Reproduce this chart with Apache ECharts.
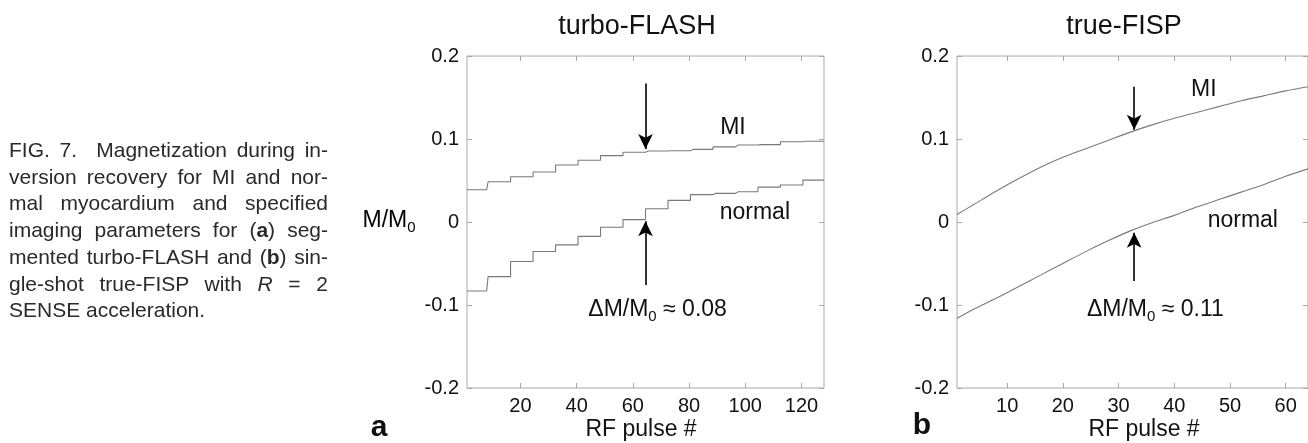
<!DOCTYPE html>
<html>
<head>
<meta charset="utf-8">
<script src="https://cdn.jsdelivr.net/npm/echarts@6/dist/echarts.min.js"></script>
<style>
  html, body { margin: 0; padding: 0; background: #fff; }
  #wrap { position: relative; width: 1308px; height: 443px; overflow: hidden; }
  #chart { position: absolute; left: 0; top: 0; width: 1308px; height: 443px; }
  #caption { position: absolute; left: 9px; top: 137px; width: 319px;
    font-family: "Liberation Sans", Arial, sans-serif; font-size: 21px; line-height: 26.7px; color: #2a2a2a; }
  #caption div { text-align: justify; text-align-last: justify; white-space: nowrap; }
  #caption div.last { text-align-last: left; }
</style>
</head>
<body>
<div id="wrap">
  <div id="chart"></div>
  <div id="caption">
    <div>FIG. 7.&nbsp; Magnetization during in-</div>
    <div>version recovery for MI and nor-</div>
    <div>mal myocardium and specified</div>
    <div>imaging parameters for (<b>a</b>) seg-</div>
    <div>mented turbo-FLASH and (<b>b</b>) sin-</div>
    <div>gle-shot true-FISP with <i>R</i> = 2</div>
    <div class="last">SENSE acceleration.</div>
  </div>
</div>
<script>
// ---------- DATA ----------
// (a) turbo-FLASH: 128 RF pulses, acquired in segments of 8 pulses; one value per segment
const flashSegmentLength = 8;
const flashPulseCount = 128;
const flashMI     = [0.0388, 0.0485, 0.0545, 0.0602, 0.0687, 0.0744, 0.0800, 0.0841,
                     0.0855, 0.0858, 0.0875, 0.0905, 0.0927, 0.0932, 0.0966, 0.0972];
const flashNormal = [-0.0832, -0.0658, -0.0476, -0.0355, -0.0275, -0.0173, -0.0064, 0.0029,
                     0.0160, 0.0260, 0.0330, 0.0345, 0.0365, 0.0420, 0.0445, 0.0505];
const flashTicks = [20, 40, 60, 80, 100, 120];

// (b) true-FISP: 64 RF pulses, smooth recovery
const fispPulses = [1, 4, 8, 12, 16, 20, 24, 28, 32, 36, 40, 44, 48, 52, 56, 60, 64];
const fispMI     = [0.009, 0.021, 0.037, 0.052, 0.066, 0.078, 0.088, 0.098, 0.108,
                    0.117, 0.125, 0.132, 0.139, 0.146, 0.152, 0.158, 0.163];
const fispNormal = [-0.116, -0.105, -0.092, -0.078, -0.064, -0.050, -0.036, -0.023, -0.011,
                    -0.001, 0.008, 0.018, 0.027, 0.036, 0.045, 0.055, 0.064];
const fispTicks = [10, 20, 30, 40, 50, 60];

const yTicks = [-0.2, -0.1, 0, 0.1, 0.2];

// annotations (data coordinates)
const flashArrowDown = [[64.5, 0.167], [64.5, 0.088]];
const flashArrowUp   = [[64.5, -0.076], [64.5, 0.001]];
const fispArrowDown  = [[32.8, 0.163], [32.8, 0.111]];
const fispArrowUp    = [[32.8, -0.071], [32.8, -0.013]];
const flashLabels = [
  { coord: [95.6, 0.114], text: '{n|MI}' },
  { coord: [103.4, 0.011], text: '{n|normal}' },
  { coord: [68.8, -0.106], text: '{n|ΔM/M}{s|0}{n| ≈ 0.08}' }
];
const fispLabels = [
  { coord: [45.3, 0.159], text: '{n|MI}' },
  { coord: [52.3, 0.002], text: '{n|normal}' },
  { coord: [36.6, -0.106], text: '{n|ΔM/M}{s|0}{n| ≈ 0.11}' }
];

// ---------- BUILD ----------
const FONT = '"Liberation Sans", Arial, Helvetica, sans-serif';
const TXT = '#111';
const LINE = '#7a7a7a';
const AXIS = '#a8a8a8';

const flashX = [];
for (let p = 1; p <= flashPulseCount; p++) flashX.push(p);
const seg = (arr) => flashX.map(p => [p, arr[Math.floor((p - 1) / flashSegmentLength)]]);
const pair = (xs, ys) => xs.map((x, i) => [x, ys[i]]);

const rich = {
  n: { fontSize: 23, fontFamily: FONT, color: TXT, lineHeight: 28 },
  s: { fontSize: 15, fontFamily: FONT, color: TXT, lineHeight: 14, verticalAlign: 'bottom' }
};

function arrowLine(arr) {
  return [{ coord: arr[0] }, { coord: arr[1] }];
}
function labelPoints(list) {
  return list.map(l => ({
    coord: l.coord, symbol: 'circle', symbolSize: 0,
    label: { show: true, position: 'inside', formatter: l.text, rich: rich }
  }));
}

function xAxes(gridIndex, min, max, ticks) {
  return [
    { type: 'value', gridIndex, min, max, position: 'bottom',
      axisLine: { show: false, onZero: false }, splitLine: { show: false },
      axisTick: { show: true, inside: true, length: 5, customValues: ticks, lineStyle: { color: AXIS } },
      axisLabel: { show: true, customValues: ticks, margin: 8, color: TXT, fontSize: 20, fontFamily: FONT } },
    { type: 'value', gridIndex, min, max, position: 'top',
      axisLine: { show: false, onZero: false }, splitLine: { show: false },
      axisTick: { show: true, inside: true, length: 5, customValues: ticks, lineStyle: { color: AXIS } },
      axisLabel: { show: false } }
  ];
}
function yAxes(gridIndex) {
  return [
    { type: 'value', gridIndex, min: -0.2, max: 0.2, interval: 0.1, position: 'left',
      axisLine: { show: false, onZero: false }, splitLine: { show: false },
      axisTick: { show: true, inside: true, length: 5, lineStyle: { color: AXIS } },
      axisLabel: { show: true, margin: 8, color: TXT, fontSize: 20, fontFamily: FONT,
        customValues: yTicks, formatter: v => String(Math.round(v * 10) / 10) } },
    { type: 'value', gridIndex, min: -0.2, max: 0.2, interval: 0.1, position: 'right',
      axisLine: { show: false, onZero: false }, splitLine: { show: false },
      axisTick: { show: true, inside: true, length: 5, lineStyle: { color: AXIS } },
      axisLabel: { show: false } }
  ];
}

const arrowStyle = {
  silent: true, symbol: ['none', 'arrow'], symbolSize: [11, 15],
  lineStyle: { color: '#000', width: 1.6, type: 'solid' }, label: { show: false },
  emphasis: { disabled: true }
};

const option = {
  animation: false,
  backgroundColor: '#fff',
  grid: [
    { left: 467, top: 56, width: 357, height: 332, show: true, borderColor: AXIS, borderWidth: 1 },
    { left: 957, top: 56, width: 357, height: 332, show: true, borderColor: AXIS, borderWidth: 1 }
  ],
  xAxis: [...xAxes(0, 1, flashPulseCount, flashTicks), ...xAxes(1, 1, 64, fispTicks)],
  yAxis: [...yAxes(0), ...yAxes(1)],
  series: [
    { type: 'line', name: 'MI (turbo-FLASH)', xAxisIndex: 0, yAxisIndex: 0, data: seg(flashMI),
      step: 'middle', showSymbol: false, lineStyle: { color: LINE, width: 1.1 },
      markLine: Object.assign({ data: [arrowLine(flashArrowDown), arrowLine(flashArrowUp)] }, arrowStyle),
      markPoint: { silent: true, data: labelPoints(flashLabels) } },
    { type: 'line', name: 'normal (turbo-FLASH)', xAxisIndex: 0, yAxisIndex: 0, data: seg(flashNormal),
      step: 'middle', showSymbol: false, lineStyle: { color: LINE, width: 1.1 } },
    { type: 'line', name: 'MI (true-FISP)', xAxisIndex: 2, yAxisIndex: 2, data: pair(fispPulses, fispMI),
      smooth: 0.3, showSymbol: false, lineStyle: { color: LINE, width: 1.1 },
      markLine: Object.assign({ data: [arrowLine(fispArrowDown), arrowLine(fispArrowUp)] }, arrowStyle),
      markPoint: { silent: true, data: labelPoints(fispLabels) } },
    { type: 'line', name: 'normal (true-FISP)', xAxisIndex: 2, yAxisIndex: 2, data: pair(fispPulses, fispNormal),
      smooth: 0.3, showSymbol: false, lineStyle: { color: LINE, width: 1.1 } }
  ],
  graphic: [
    { type: 'text', x: 637, y: 27, style: { text: 'turbo-FLASH', fontSize: 27, fontFamily: FONT, fill: TXT, align: 'center', verticalAlign: 'middle' } },
    { type: 'text', x: 1124, y: 27, style: { text: 'true-FISP', fontSize: 27, fontFamily: FONT, fill: TXT, align: 'center', verticalAlign: 'middle' } },
    { type: 'text', x: 641, y: 430, style: { text: 'RF pulse #', fontSize: 23, fontFamily: FONT, fill: TXT, align: 'center', verticalAlign: 'middle' } },
    { type: 'text', x: 1144, y: 430, style: { text: 'RF pulse #', fontSize: 23, fontFamily: FONT, fill: TXT, align: 'center', verticalAlign: 'middle' } },
    { type: 'text', x: 379, y: 428, style: { text: 'a', fontSize: 30, fontWeight: 'bold', fontFamily: FONT, fill: TXT, align: 'center', verticalAlign: 'middle' } },
    { type: 'text', x: 922, y: 426, style: { text: 'b', fontSize: 30, fontWeight: 'bold', fontFamily: FONT, fill: TXT, align: 'center', verticalAlign: 'middle' } },
    { type: 'text', x: 389, y: 221, style: { text: '{n|M/M}{s|0}', rich: rich, align: 'center', verticalAlign: 'middle' } }
  ]
};

const chart = echarts.init(document.getElementById('chart'), null, { renderer: 'canvas' });
chart.setOption(option);
</script>
</body>
</html>
